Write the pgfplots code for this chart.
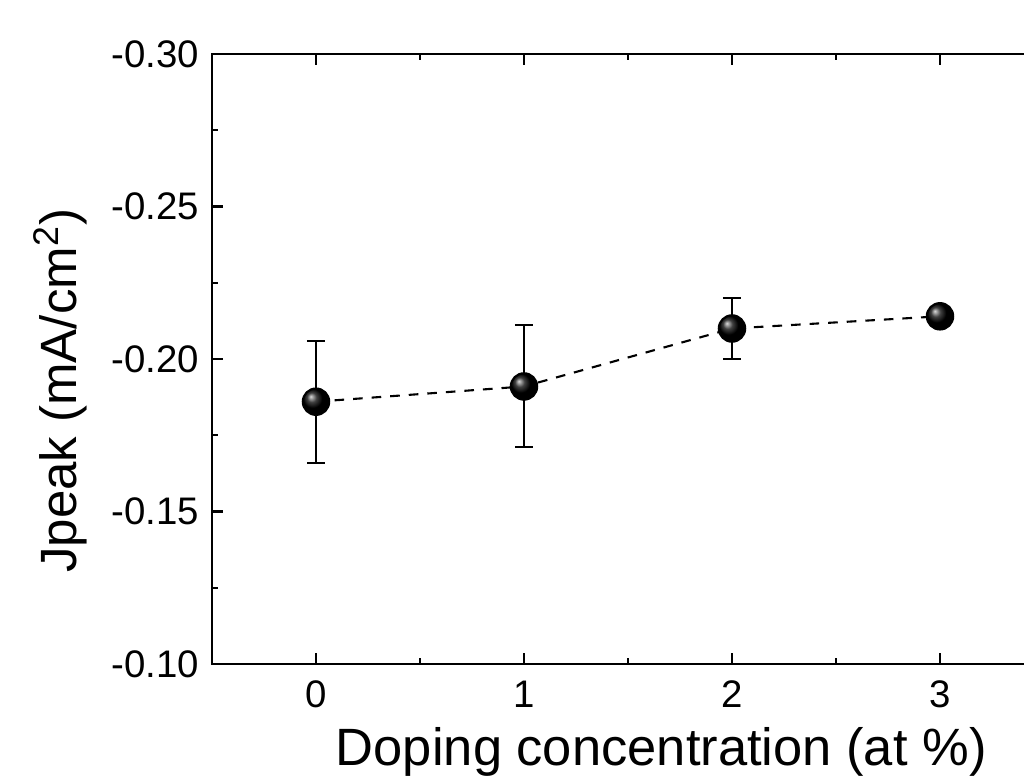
\documentclass[border=0pt]{standalone}
\usepackage{fontspec}
\setmainfont{Liberation Sans}
\usepackage{pgfplots}
\pgfplotsset{compat=1.18}

\begin{document}
\begin{tikzpicture}
  % picture frame: 1px of the reference = 1/3 pt
  \useasboundingbox (-70.667pt,-39.333pt) rectangle (270.667pt,221.333pt);
  \clip (-70.667pt,-39.333pt) rectangle (270.667pt,221.333pt);
  \begin{axis}[
      at={(0,0)}, anchor=south west,
      scale only axis,
      width=277.333pt, height=203.333pt,
      xmin=-0.5, xmax=3.5,
      ymin=-0.30, ymax=-0.10,
      y dir=reverse,
      xtick={0,1,2,3},
      xticklabels={0,1,2,3},
      ytick={-0.30,-0.25,-0.20,-0.15,-0.10},
      yticklabels={-0.30,-0.25,-0.20,-0.15,-0.10},
      minor x tick num=1,
      minor y tick num=1,
      tick align=inside,
      major tick length=3.8pt,
      minor tick length=1.9pt,
      every tick/.style={black, line width=0.8pt},
      axis line style={line width=0.9pt},
      tick label style={font=\fontsize{12.8}{14}\selectfont},
      xticklabel style={yshift=-2pt},
      yticklabel style={xshift=-0.8pt},
      label style={font=\fontsize{17.5}{20}\selectfont},
      xlabel={Doping concentration (at \%)},
      xlabel style={at={(axis description cs:0.54,-0.166)}, anchor=base, inner sep=0pt},
      ylabel={Jpeak (mA/cm\textsuperscript{2})},
      ylabel style={at={(axis description cs:-0.149,0.448)}, anchor=south, inner sep=0pt,
        font=\fontsize{17}{20}\selectfont},
    ]
    % error bars, behind the markers
    \addplot+[draw=none, mark=none,
      error bars/.cd, y dir=both, y explicit,
      error mark=-,
      error bar style={black, solid, line width=0.7pt},
      error mark options={black, rotate=90, mark size=3pt, line width=0.7pt}]
      coordinates {
        (0,-0.186) +- (0,0.020)
        (1,-0.191) +- (0,0.020)
        (2,-0.210) +- (0,0.010)
        (3,-0.214) +- (0,0.000)
      };
    % dashed line with shaded balls
    \addplot[black, line width=0.7pt, dash pattern=on 3.2pt off 3pt,
      mark=ball, mark size=4.4pt,
      mark options={solid, ball color=black}]
      coordinates {
        (0,-0.186)
        (1,-0.191)
        (2,-0.210)
        (3,-0.214)
      };
  \end{axis}
\end{tikzpicture}
\end{document}
